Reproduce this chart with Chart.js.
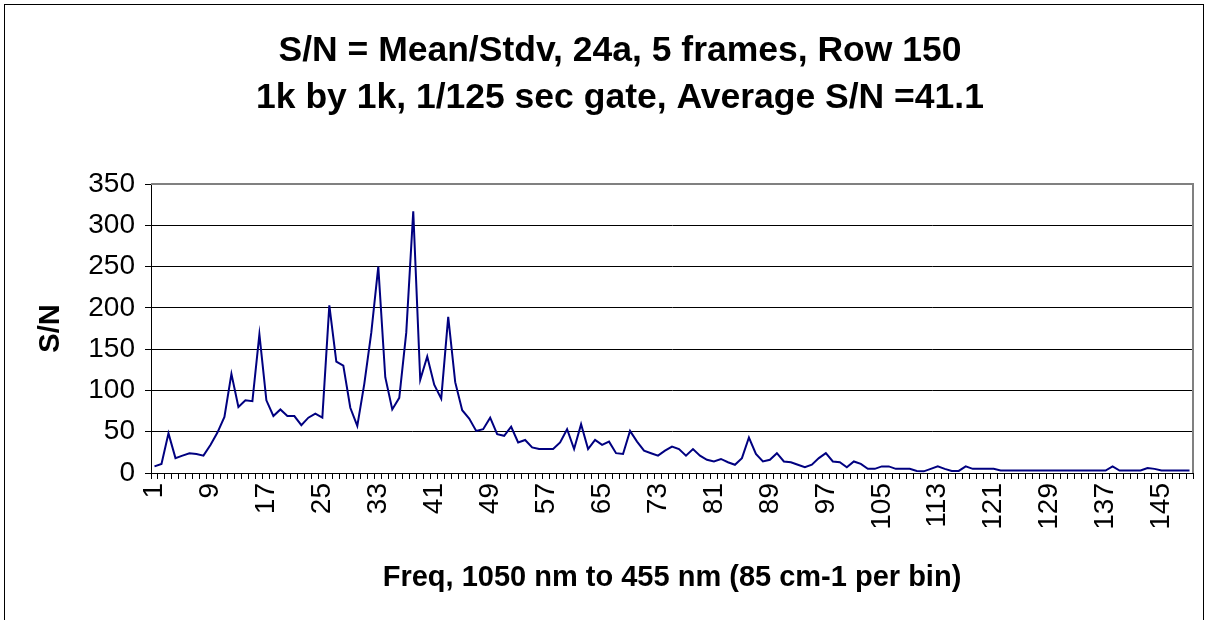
<!DOCTYPE html>
<html>
<head>
<meta charset="utf-8">
<script src="https://cdn.jsdelivr.net/npm/chart.js@4.4.1/dist/chart.umd.min.js"></script>
<style>
    html, body { margin: 0; padding: 0; background: #fff; }
    #wrap { width: 1209px; height: 620px; }
</style>
</head>
<body>
<div id="wrap"><canvas id="snChart" width="1209" height="620"></canvas></div>
<script>
// Títulos e rótulos do gráfico
const titleLines = [
    "S/N = Mean/Stdv, 24a, 5 frames, Row 150",
    "1k by 1k, 1/125 sec gate, Average S/N =41.1"
];
const xAxisTitle = "Freq, 1050 nm to 455 nm (85 cm-1 per bin)";
const yAxisTitle = "S/N";

// Bins 1..149 (rótulo visível a cada 8)
const bins = [];
for (let i = 1; i <= 149; i++) bins.push(String(i));
const labelEvery = 8;

// S/N, um valor por bin
const snValues = [
    8, 11, 48, 18, 21, 24, 23, 21, 34, 49,
    68, 120, 80, 88, 87, 168, 88, 69, 77, 69,
    69, 58, 67, 72, 67, 203, 135, 130, 79, 57,
    108, 170, 250, 116, 77, 91, 170, 317, 113, 141,
    107, 90, 189, 110, 76, 66, 51, 53, 67, 47,
    45, 56, 37, 40, 31, 29, 29, 29, 37, 53,
    29, 59, 29, 40, 34, 38, 24, 23, 51, 38,
    27, 24, 21, 27, 32, 29, 21, 29, 21, 16,
    14, 17, 13, 10, 18, 43, 23, 14, 16, 24,
    14, 13, 10, 7, 10, 18, 24, 14, 13, 7,
    14, 11, 5, 5, 8, 8, 5, 5, 5, 2.5,
    2, 5, 8, 5, 2.5, 2.5, 8, 5, 5, 5,
    5, 3, 3, 3, 3, 3, 3, 3, 3, 3,
    3, 3, 3, 3, 3, 3, 3, 8, 3, 3,
    3, 3, 6, 5, 3, 3, 3, 3, 3
];

const yMin = 0, yMax = 350, yStep = 50;

const FONT = '"Liberation Sans", Arial, sans-serif';

// Moldura do gráfico, borda da área de plotagem e título (estilo Excel)
const excelFrame = {
    id: 'excelFrame',
    beforeDatasetsDraw(chart) {
        const { ctx, chartArea: a } = chart;
        ctx.save();
        ctx.strokeStyle = '#808080';
        ctx.lineWidth = 2;
        ctx.beginPath();
        ctx.moveTo(a.left, a.top);
        ctx.lineTo(a.right, a.top);
        ctx.lineTo(a.right, a.bottom);
        ctx.stroke();
        ctx.restore();
    },
    afterDraw(chart) {
        const ctx = chart.ctx;
        ctx.save();
        ctx.strokeStyle = '#000';
        ctx.lineWidth = 1;
        ctx.strokeRect(4.5, 4.5, 1199, 700);
        ctx.fillStyle = '#000';
        ctx.font = 'bold 35.5px ' + FONT;
        ctx.textAlign = 'center';
        ctx.textBaseline = 'middle';
        ctx.fillText(titleLines[0], 620, 51);
        ctx.fillText(titleLines[1], 620, 98);
        ctx.restore();
    }
};

new Chart(document.getElementById('snChart'), {
    type: 'line',
    data: {
        labels: bins,
        datasets: [{
            label: 'S/N',
            data: snValues,
            borderColor: '#000080',
            borderWidth: 2,
            pointRadius: 0,
            tension: 0,
            fill: false
        }]
    },
    options: {
        responsive: false,
        animation: false,
        devicePixelRatio: 1,
        layout: { padding: { left: 10, right: 16, top: 184, bottom: 0 } },
        plugins: {
            legend: { display: false },
            tooltip: { enabled: false },
            title: { display: false }
        },
        scales: {
            x: {
                type: 'category',
                offset: true,
                grid: { offset: true, drawOnChartArea: false, drawTicks: true, tickLength: 6, color: '#000' },
                border: { color: '#000', width: 1 },
                ticks: {
                    autoSkip: false, minRotation: 90, maxRotation: 90, padding: 4,
                    color: '#000', font: { family: FONT, size: 28 },
                    callback: (v, i) => (i % labelEvery === 0 ? bins[i] : '')
                },
                title: {
                    display: true, text: xAxisTitle, color: '#000',
                    font: { family: FONT, size: 29, weight: 'bold' },
                    padding: { top: 0, bottom: 25 }
                },
                afterFit: s => { s.height = 147; s.paddingLeft = 0; s.paddingRight = 0; }
            },
            y: {
                min: yMin, max: yMax,
                grid: { color: '#000', lineWidth: 1, drawTicks: true, tickLength: 6 },
                border: { color: '#000', width: 1 },
                ticks: { stepSize: yStep, padding: 10, color: '#000', font: { family: FONT, size: 28 } },
                title: {
                    display: true, text: yAxisTitle, color: '#000',
                    font: { family: FONT, size: 29, weight: 'bold' },
                    padding: { top: 24, bottom: 0 }
                },
                afterFit: s => { s.width = 141; }
            }
        }
    },
    plugins: [excelFrame]
});
</script>
</body>
</html>
